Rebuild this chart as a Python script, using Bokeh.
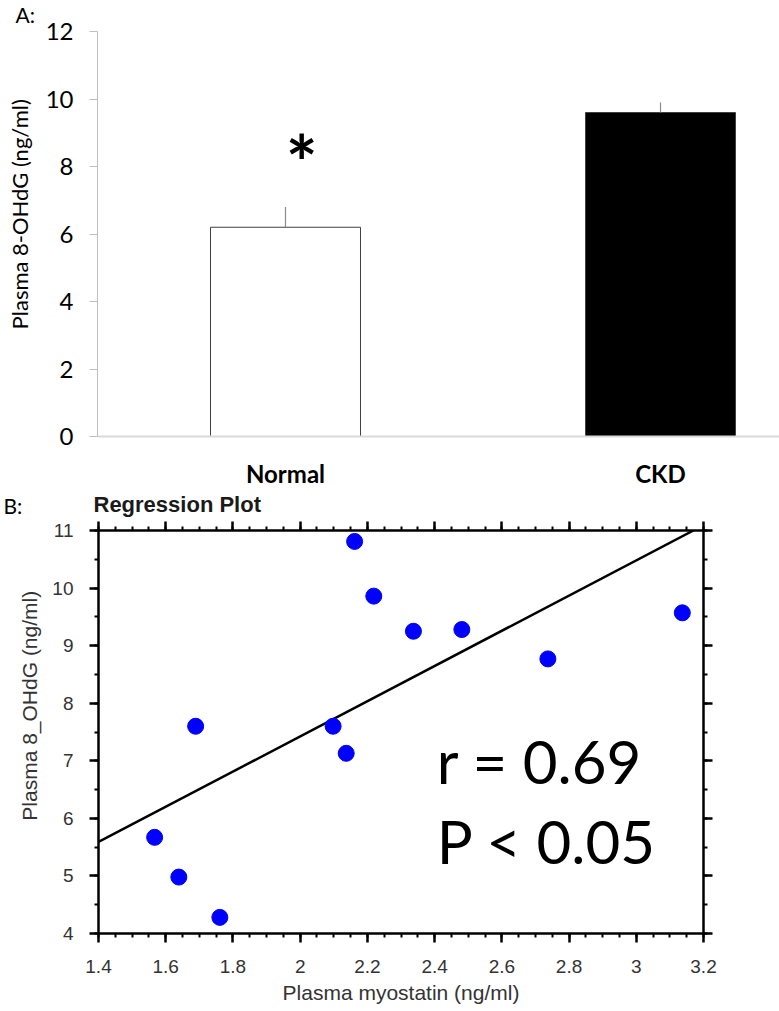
import numpy as np
from bokeh.plotting import figure
from bokeh.models import Range1d, LinearAxis, FixedTicker, Label
from bokeh.core.properties import value
from bokeh.embed import file_html
from bokeh.resources import INLINE

# ---------------- Panel A data ----------------
groups = ["Normal", "CKD"]
group_means = [6.2, 9.6]
group_errors = [0.6, 0.3]
group_fill = ["white", "black"]
significance = ["*", ""]
bar_ticks = [0, 2, 4, 6, 8, 10, 12]

# ---------------- Panel B data ----------------
myostatin = [1.567, 1.639, 1.689, 1.761, 2.098, 2.137, 2.162, 2.219, 2.337, 2.481, 2.737, 3.137]
ohdg = [5.67, 4.98, 7.60, 4.28, 7.60, 7.13, 10.81, 9.86, 9.25, 9.28, 8.77, 9.57]
fit_x = [1.4, 3.17]
fit_y = [5.59, 11.0]
x_ticks = [1.4, 1.6, 1.8, 2.0, 2.2, 2.4, 2.6, 2.8, 3.0, 3.2]
x_tick_labels = ["1.4", "1.6", "1.8", "2", "2.2", "2.4", "2.6", "2.8", "3", "3.2"]
y_ticks = [4, 5, 6, 7, 8, 9, 10, 11]
stats_text = ["r = 0.69", "P < 0.05"]
stats_y = [7.0, 5.6]
stats_x = 2.406

CAL = "Lato"
ARIAL = "Liberation Sans"
NB = "\u00a0"


def text_strip(height):
    s = figure(width=779, height=height, x_range=Range1d(0, 779), y_range=Range1d(height, 0),
               x_axis_type=None, y_axis_type=None, toolbar_location=None, output_backend="svg",
               min_border_left=0, min_border_right=0, min_border_top=0, min_border_bottom=0)
    s.outline_line_color = None
    return s


# ================= strip with panel A heading =================
stripA = text_strip(31)
stripA.text(x=[15], y=[14], text=["A:"], text_font=value(CAL), text_font_size="21px",
            text_align="left", text_baseline="middle", text_color="black")

# ================= Panel A (overlaps the strip, transparent border) =================
idx = list(range(len(groups)))
pA = figure(width=779, height=490, x_range=Range1d(-0.5013, 1.3173), y_range=Range1d(0, 12),
            x_axis_type=None, y_axis_type=None, toolbar_location=None, output_backend="svg",
            min_border_left=97, min_border_right=0, min_border_top=31, min_border_bottom=50,
            margin=(-31, 0, 0, 0))
pA.outline_line_color = None
pA.background_fill_color = "white"
pA.border_fill_color = None

xa = LinearAxis(ticker=FixedTicker(ticks=idx),
                major_label_overrides={i: g for i, g in zip(idx, groups)})
xa.axis_line_color = "#d9d9d9"
xa.axis_line_width = 2
xa.major_tick_out = 0
xa.major_tick_in = 0
xa.minor_tick_out = 0
xa.major_label_standoff = 22
xa.major_label_text_font = CAL
xa.major_label_text_font_style = "bold"
xa.major_label_text_font_size = "24px"
xa.major_label_text_color = "black"
pA.add_layout(xa, "below")

ya = LinearAxis(ticker=FixedTicker(ticks=bar_ticks, minor_ticks=[]))
ya.axis_line_color = "#bfbfbf"
ya.major_tick_line_color = "#bfbfbf"
ya.major_tick_out = 8
ya.major_tick_in = 0
ya.minor_tick_out = 0
ya.major_label_standoff = 16
ya.major_label_text_font = CAL
ya.major_label_text_font_size = "24px"
ya.major_label_text_color = "black"
ya.axis_label = NB * 7 + "Plasma 8-OHdG (ng/ml)"
ya.axis_label_text_font = CAL
ya.axis_label_text_font_style = "normal"
ya.axis_label_text_font_size = "22px"
ya.axis_label_text_color = "black"
ya.axis_label_standoff = 10
pA.add_layout(ya, "left")

pA.vbar(x=idx, top=group_means, width=0.4, fill_color=group_fill, line_color="#404040", line_width=1)
err_top = [m + e for m, e in zip(group_means, group_errors)]
pA.segment(x0=idx, y0=group_means, x1=idx, y1=err_top, line_color="#8c8c8c", line_width=1.2)

for i, s in enumerate(significance):
    if s:
        pA.add_layout(Label(x=i + 0.043, y=err_top[i] + 1.37, text=s, text_font=CAL,
                            text_font_style="bold", text_font_size="75px", text_align="center",
                            text_baseline="middle", text_color="black"))

# ================= strip with panel B heading =================
stripB = text_strip(28)
stripB.text(x=[3], y=[15], text=["B:"], text_font=value(CAL), text_font_size="21px",
            text_align="left", text_baseline="middle", text_color="black")
stripB.text(x=[93], y=[14], text=["Regression Plot"], text_font=value(ARIAL), text_font_style="bold",
            text_font_size="22px", text_align="left", text_baseline="middle", text_color="#1a1a1a")

# ================= Panel B =================
pB = figure(width=779, height=493, x_range=Range1d(1.4, 3.2), y_range=Range1d(4, 11),
            x_axis_type=None, y_axis_type=None, toolbar_location=None, output_backend="svg",
            min_border_left=98, min_border_right=76, min_border_top=12, min_border_bottom=78)
pB.outline_line_color = None
pB.background_fill_color = "white"

x_minor = [round(v, 2) for v in np.arange(1.4, 3.2001, 0.05)]
y_minor = [round(v, 1) for v in np.arange(4, 11.001, 0.5)]


def style_axis(ax, labels=True):
    ax.axis_line_color = "black"
    ax.axis_line_width = 2.5
    ax.major_tick_line_color = "black"
    ax.major_tick_line_width = 2.5
    ax.minor_tick_line_color = "black"
    ax.minor_tick_line_width = 2
    ax.major_tick_out = 9
    ax.major_tick_in = 0
    ax.minor_tick_out = 4
    ax.minor_tick_in = 0
    ax.major_label_text_font = ARIAL
    ax.major_label_text_font_size = "19px" if labels else "0px"
    ax.major_label_text_color = "#333333"
    ax.axis_label_text_font = ARIAL
    ax.axis_label_text_font_style = "normal"
    ax.axis_label_text_font_size = "21px"
    ax.axis_label_text_color = "#333333"
    if not labels:
        ax.major_label_standoff = 0


xb = LinearAxis(ticker=FixedTicker(ticks=x_ticks, minor_ticks=x_minor),
                major_label_overrides={t: l for t, l in zip(x_ticks, x_tick_labels)})
style_axis(xb)
xb.major_label_standoff = 17
xb.axis_label = "Plasma myostatin (ng/ml)"
xb.axis_label_standoff = 5
pB.add_layout(xb, "below")

xt = LinearAxis(ticker=FixedTicker(ticks=x_ticks, minor_ticks=x_minor),
                major_label_overrides={t: "" for t in x_ticks})
style_axis(xt, labels=False)
pB.add_layout(xt, "above")

yb = LinearAxis(ticker=FixedTicker(ticks=y_ticks, minor_ticks=y_minor))
style_axis(yb)
yb.major_label_standoff = 16
yb.axis_label = NB * 9 + "Plasma 8_OHdG (ng/ml)"
yb.axis_label_standoff = 8
pB.add_layout(yb, "left")

yr = LinearAxis(ticker=FixedTicker(ticks=y_ticks, minor_ticks=y_minor),
                major_label_overrides={t: "" for t in y_ticks})
style_axis(yr, labels=False)
pB.add_layout(yr, "right")

pB.line(fit_x, fit_y, line_color="black", line_width=2.5)
pB.scatter(myostatin, ohdg, size=16, fill_color="#0000ff", line_color="#0000ff")

for t, yv in zip(stats_text, stats_y):
    pB.add_layout(Label(x=stats_x, y=yv, text=t, text_font=CAL, text_font_size="60px",
                        text_align="left", text_baseline="alphabetic", text_color="black"))

open("out.html", "w").write(file_html([stripA, pA, stripB, pB], INLINE))
